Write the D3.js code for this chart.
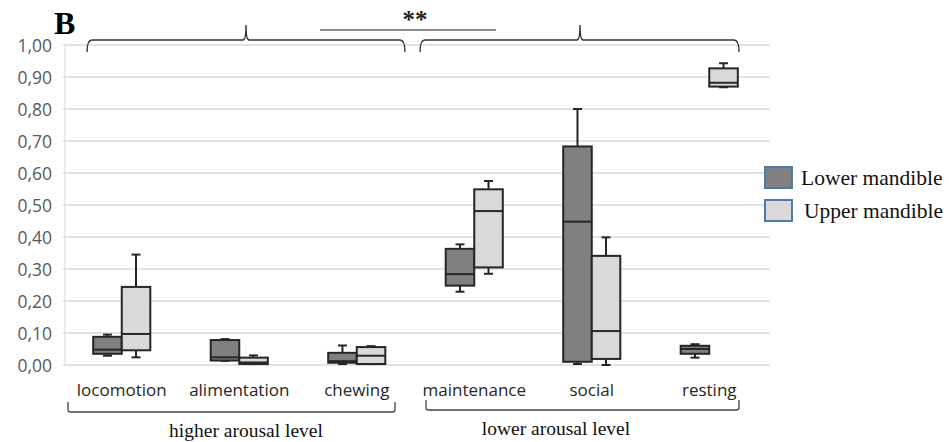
<!DOCTYPE html>
<html><head><meta charset="utf-8">
<script src="https://cdn.jsdelivr.net/npm/d3@7"></script>
<style>body{margin:0;background:#fff}svg{display:block}</style>
</head><body><svg id="c" width="949" height="442"></svg>
<script>
const categories = ["locomotion","alimentation","chewing","maintenance","social","resting"];
const seriesNames = ["Lower mandible","Upper mandible"];
// [whiskerMin, q1, median, q3, whiskerMax]
const lowerMandible = [
  [0.029,0.035,0.048,0.088,0.095],
  [0.013,0.014,0.024,0.078,0.081],
  [0.003,0.007,0.012,0.038,0.061],
  [0.229,0.248,0.284,0.363,0.377],
  [0.003,0.010,0.448,0.683,0.800],
  [0.023,0.035,0.050,0.060,0.065]
];
const upperMandible = [
  [0.024,0.046,0.097,0.244,0.345],
  [0.003,0.003,0.008,0.023,0.030],
  [0.003,0.003,0.029,0.056,0.059],
  [0.285,0.305,0.481,0.549,0.575],
  [0.000,0.019,0.106,0.341,0.399],
  [0.868,0.870,0.882,0.927,0.943]
];
const yTicks = [0,0.1,0.2,0.3,0.4,0.5,0.6,0.7,0.8,0.9,1.0];
const groupLabels = ["higher arousal level","lower arousal level"];

const svg = d3.select("#c");
const x = d3.scaleBand().domain(categories).range([63,768]);
const y = d3.scaleLinear().domain([0,1]).range([365,45]);
const fmt = v => d3.format(".2f")(v).replace(".", ",");
const ink = "#262626";

// gridlines
svg.append("g").selectAll("line").data(yTicks).join("line")
  .attr("x1",63).attr("x2",770).attr("y1",d=>y(d)).attr("y2",d=>y(d))
  .attr("stroke","#d9d9d9").attr("stroke-width",1.5);
svg.append("line").attr("x1",65).attr("x2",65).attr("y1",y(1)).attr("y2",y(0))
  .attr("stroke","#d9d9d9").attr("stroke-width",1);

// y axis labels
const yAxis = d3.axisLeft(y).tickValues(yTicks).tickFormat(fmt).tickSize(0).tickPadding(0);
const ga = svg.append("g").attr("transform","translate(52,0)").call(yAxis);
ga.select(".domain").remove();
ga.selectAll("text").attr("font-family","'Open Sans', sans-serif").attr("font-size",17.5)
  .attr("fill","#595959").attr("dy","0.35em");

// x labels
const xAxis = d3.axisBottom(x).tickSize(0).tickPadding(0);
const gx = svg.append("g").attr("transform","translate(0,384)").call(xAxis);
gx.select(".domain").remove();
gx.selectAll("text").attr("font-family","'Open Sans', sans-serif").attr("font-size",17)
  .attr("fill","#262626").attr("dy","0.71em");

// boxes
const bw = x.bandwidth()*0.243;
function drawBoxes(data, fill, offset){
  const g = svg.append("g");
  data.forEach((s,i)=>{
    const c = x(categories[i]) + x.bandwidth()/2;
    const x0 = offset<0 ? c - bw : c;
    const xm = x0 + bw/2;
    const [mn,q1,md,q3,mx] = s;
    g.append("line").attr("x1",xm).attr("x2",xm).attr("y1",y(mx)).attr("y2",y(q3)).attr("stroke",ink).attr("stroke-width",2);
    g.append("line").attr("x1",xm).attr("x2",xm).attr("y1",y(q1)).attr("y2",y(mn)).attr("stroke",ink).attr("stroke-width",2);
    g.append("line").attr("x1",xm-4.5).attr("x2",xm+4.5).attr("y1",y(mx)).attr("y2",y(mx)).attr("stroke",ink).attr("stroke-width",2);
    g.append("line").attr("x1",xm-4.5).attr("x2",xm+4.5).attr("y1",y(mn)).attr("y2",y(mn)).attr("stroke",ink).attr("stroke-width",2);
    g.append("rect").attr("x",x0).attr("width",bw).attr("y",y(q3)).attr("height",Math.max(1,y(q1)-y(q3)))
      .attr("fill",fill).attr("stroke",ink).attr("stroke-width",2);
    g.append("line").attr("x1",x0).attr("x2",x0+bw).attr("y1",y(md)).attr("y2",y(md)).attr("stroke",ink).attr("stroke-width",2);
  });
}
drawBoxes(lowerMandible,"#808080",-1);
drawBoxes(upperMandible,"#d9d9d9",1);

// legend
const leg = svg.append("g");
seriesNames.forEach((n,i)=>{
  leg.append("rect").attr("x",765).attr("y",167+i*33).attr("width",27).attr("height",21)
    .attr("fill",i===0?"#808080":"#d9d9d9").attr("stroke","#4a7bab").attr("stroke-width",2);
  leg.append("text").attr("x",i===0?801:804).attr("y",185+i*33).text(n)
    .attr("font-family","'Liberation Serif', serif").attr("font-size",21.5).attr("fill","#111");
});

// top brackets
function topBrace(x0,x1,xc,yb){
  return `M${x0},${yb+12} Q${x0},${yb} ${x0+5},${yb} L${xc-3},${yb} Q${xc},${yb} ${xc},${yb-15} Q${xc},${yb} ${xc+3},${yb} L${x1-5},${yb} Q${x1},${yb} ${x1},${yb+12}`;
}
svg.append("path").attr("d",topBrace(87,405,246,40)).attr("fill","none").attr("stroke","#333").attr("stroke-width",1.4);
svg.append("path").attr("d",topBrace(420,739,580,40)).attr("fill","none").attr("stroke","#333").attr("stroke-width",1.4);
svg.append("line").attr("x1",320).attr("x2",496).attr("y1",30).attr("y2",30).attr("stroke","#666").attr("stroke-width",1.5);
svg.append("text").attr("x",415).attr("y",28).attr("text-anchor","middle").text("**")
  .attr("font-family","'Liberation Serif', serif").attr("font-weight","bold").attr("font-size",25).attr("fill","#222");
svg.append("text").attr("x",54).attr("y",34).text("B")
  .attr("font-family","'Liberation Serif', serif").attr("font-weight","bold").attr("font-size",32).attr("fill","#000");

// bottom brackets
function botBrace(x0,x1,yb){
  return `M${x0},${yb-10} L${x0},${yb-2} Q${x0},${yb} ${x0+3},${yb} L${x1-3},${yb} Q${x1},${yb} ${x1},${yb-2} L${x1},${yb-10}`;
}
svg.append("path").attr("d",botBrace(68,395,412)).attr("fill","none").attr("stroke","#444").attr("stroke-width",1.3);
svg.append("path").attr("d",botBrace(426,739,410)).attr("fill","none").attr("stroke","#444").attr("stroke-width",1.3);
svg.append("text").attr("x",246).attr("y",437).attr("text-anchor","middle").text(groupLabels[0])
  .attr("font-family","'Liberation Serif', serif").attr("font-size",19.5).attr("fill","#111");
svg.append("text").attr("x",556).attr("y",435).attr("text-anchor","middle").text(groupLabels[1])
  .attr("font-family","'Liberation Serif', serif").attr("font-size",19.5).attr("fill","#111");
</script></body></html>
